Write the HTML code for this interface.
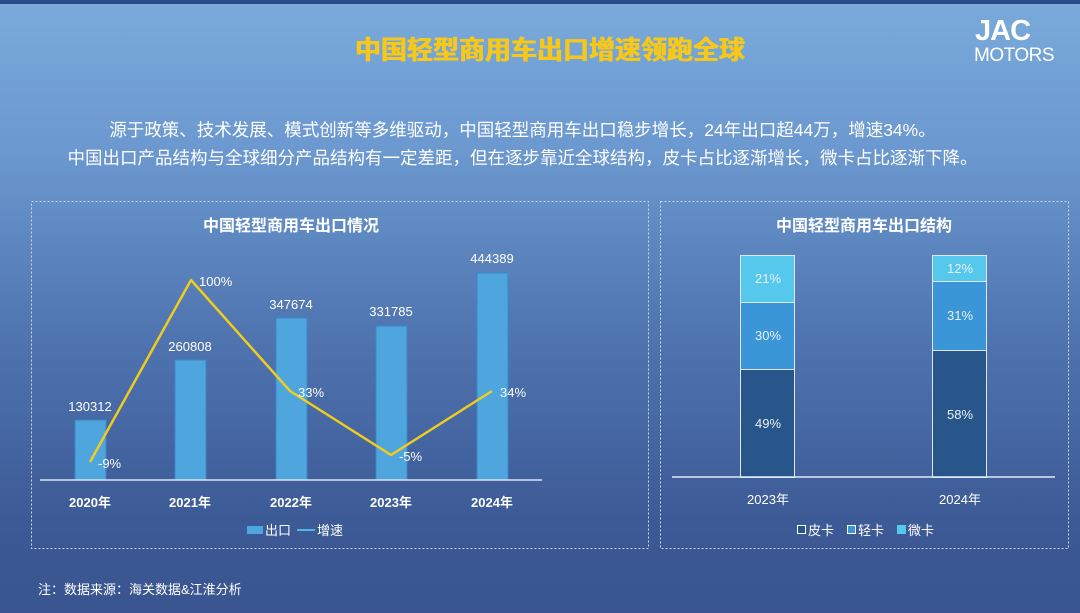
<!DOCTYPE html>
<html><head><meta charset="utf-8"><style>
body{margin:0;width:1080px;height:613px;overflow:hidden;font-family:"Liberation Sans","Noto Sans CJK SC",sans-serif;}
.bg{position:absolute;left:0;top:0;width:1080px;height:613px;background:linear-gradient(#7aaadb 0%,#6b98cf 25%,#4f74b0 55%,#3c5a96 85%,#3a5590 100%);}
.strip{position:absolute;left:0;top:0;width:1080px;height:4px;background:#2a4a8a;}
.t{position:absolute;white-space:nowrap;color:#fff;}
</style></head><body>
<div class="bg"></div><div class="strip"></div>
<div class="t" style="left:0;width:1100px;text-align:center;top:30px;font-size:26px;font-weight:bold;color:#f7c81a;text-shadow:0.5px 0 0 #f7c81a,-0.5px 0 0 #f7c81a;">中国轻型商用车出口增速领跑全球</div>
<div class="t" style="left:975px;top:15px;font-size:29px;font-weight:bold;letter-spacing:-1px;">JAC</div>
<div class="t" style="left:974px;top:45px;font-size:19px;letter-spacing:-0.5px;">MOTORS</div>
<div class="t" style="left:0;width:1045px;text-align:center;top:117px;font-size:17.5px;">源于政策、技术发展、模式创新等多维驱动，中国轻型商用车出口稳步增长，24年出口超44万，增速34%。</div>
<div class="t" style="left:0;width:1045px;text-align:center;top:145px;font-size:17.5px;">中国出口产品结构与全球细分产品结构有一定差距，但在逐步靠近全球结构，皮卡占比逐渐增长，微卡占比逐渐下降。</div>
<div class="t" style="left:38px;top:579px;font-size:13px;">注：数据来源：海关数据&amp;江淮分析</div>
<svg width="1080" height="613" style="position:absolute;left:0;top:0" font-family="Liberation Sans, Noto Sans CJK SC, sans-serif">
<rect x="31.5" y="201.5" width="617" height="347" fill="none" stroke="#c8d8f0" stroke-dasharray="2,2"/>
<rect x="660.5" y="201.5" width="408" height="347" fill="none" stroke="#c8d8f0" stroke-dasharray="2,2"/>
<text x="291" y="231" fill="#fff" font-size="16" font-weight="bold" text-anchor="middle">中国轻型商用车出口情况</text>
<g fill="#4fa6df" stroke="#3a88c4">
<rect x="75" y="420" width="31" height="60"/><rect x="175" y="360" width="31" height="120"/><rect x="276" y="318" width="31" height="162"/><rect x="376" y="326" width="31" height="154"/><rect x="477" y="273" width="31" height="207"/>
</g>
<line x1="40" y1="480" x2="542" y2="480" stroke="#d8e4f4" stroke-width="1.5"/>
<g fill="#fff" font-size="13" text-anchor="middle">
<text x="90" y="411">130312</text><text x="190" y="351">260808</text><text x="291" y="309">347674</text><text x="391" y="316">331785</text><text x="492" y="263">444389</text>
</g>
<polyline points="90,462 191,280 290,391 391,455 492,391" fill="none" stroke="#f0cc1e" stroke-width="2.5" stroke-linejoin="round"/>
<g fill="#fff" font-size="13">
<text x="98" y="468">-9%</text><text x="199" y="286">100%</text><text x="298" y="397">33%</text><text x="399" y="461">-5%</text><text x="500" y="397">34%</text>
</g>
<g fill="#fff" font-size="13" font-weight="bold" text-anchor="middle">
<text x="90" y="507">2020年</text><text x="190" y="507">2021年</text><text x="291" y="507">2022年</text><text x="391" y="507">2023年</text><text x="492" y="507">2024年</text>
</g>
<rect x="247" y="526" width="16" height="8" fill="#4fa6df"/><text x="265" y="535" fill="#fff" font-size="13">出口</text>
<line x1="297" y1="530" x2="315" y2="530" stroke="#4fb6e6" stroke-width="2"/><text x="317" y="535" fill="#fff" font-size="13">增速</text>
<text x="864" y="231" fill="#fff" font-size="16" font-weight="bold" text-anchor="middle">中国轻型商用车出口结构</text>
<g stroke="#dfe9f5" stroke-width="1">
<rect x="740.5" y="255.5" width="54" height="47" fill="#55c8ec"/><rect x="740.5" y="302.5" width="54" height="67" fill="#3a96d6"/><rect x="740.5" y="369.5" width="54" height="108" fill="#28568a"/>
<rect x="932.5" y="255.5" width="54" height="26" fill="#55c8ec"/><rect x="932.5" y="281.5" width="54" height="69" fill="#3a96d6"/><rect x="932.5" y="350.5" width="54" height="127" fill="#28568a"/>
</g>
<line x1="672" y1="477" x2="1055" y2="477" stroke="#dfe9f5" stroke-width="1.5"/>
<g fill="#e8f0f8" font-size="13" text-anchor="middle">
<text x="768" y="283">21%</text><text x="768" y="340">30%</text><text x="768" y="428">49%</text>
<text x="960" y="273">12%</text><text x="960" y="320">31%</text><text x="960" y="419">58%</text>
</g>
<g fill="#fff" font-size="13" text-anchor="middle"><text x="768" y="504">2023年</text><text x="960" y="504">2024年</text></g>
<rect x="797.5" y="525.5" width="8" height="8" fill="#28568a" stroke="#fff"/><text x="808" y="535" fill="#fff" font-size="13">皮卡</text>
<rect x="847.5" y="525.5" width="8" height="8" fill="#3a96d6" stroke="#fff"/><text x="858" y="535" fill="#fff" font-size="13">轻卡</text>
<rect x="897" y="525" width="9" height="9" fill="#55c8ec"/><text x="908" y="535" fill="#fff" font-size="13">微卡</text>
</svg>
</body></html>
